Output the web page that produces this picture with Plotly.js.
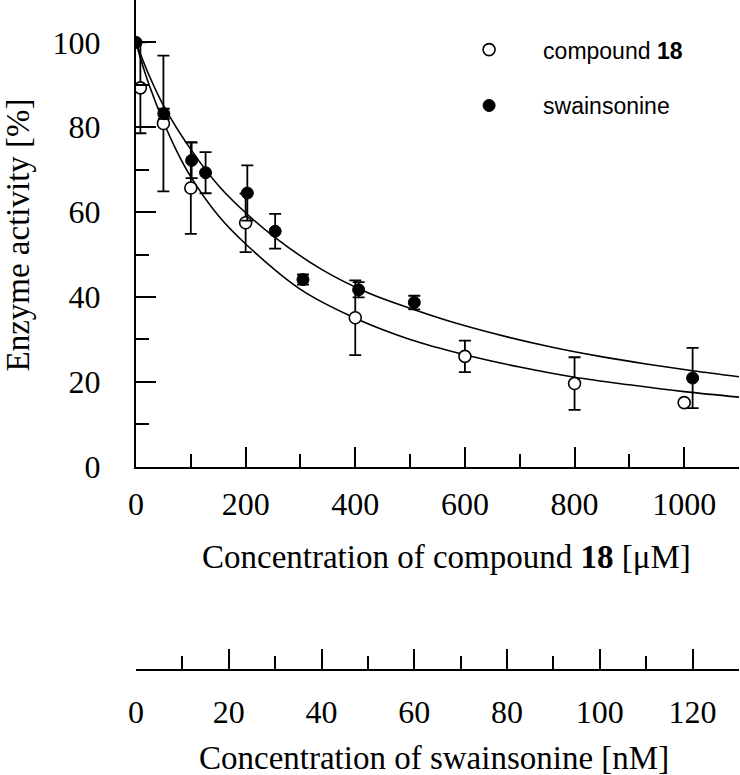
<!DOCTYPE html>
<html>
<head>
<meta charset="utf-8">
<script src="https://cdn.plot.ly/plotly-3.0.1.min.js"></script>
<style>html,body{margin:0;padding:0;background:#fff;}#chart{width:740px;height:775px;}</style>
</head>
<body>
<div id="chart"></div>
<script>
// compound 18 (µM)
var conc18 = [8, 50, 100, 200, 400, 600, 800, 1000];
var act18 = [89.3, 80.9, 65.7, 57.5, 35.1, 26.0, 19.6, 15.1];
var err18 = [10.7, 16.0, 10.8, 6.9, 8.8, 3.7, 6.2, 0.5];

// swainsonine (nM)
var concSw = [0, 6, 12, 15, 24, 30, 36, 48, 60, 120];
var actSw = [100, 83.2, 72.2, 69.3, 64.5, 55.5, 44.1, 41.7, 38.7, 20.9];
var errSw = [0.3, 1.2, 4.2, 4.85, 6.5, 4.1, 1.2, 1.8, 1.6, 7.1];

// fitted curves
var fitX18 = [0, 10, 25, 50, 75, 100, 150, 200, 300, 400, 500, 600, 700, 800, 900, 1000, 1100];
var fitY18 = [100, 95.5, 89.6, 81.3, 74.2, 68.3, 59.2, 52.5, 41.8, 35.0, 30.0, 26.4, 23.5, 21.1, 19.3, 17.7, 16.4];
var fitXSw = [0, 3, 6, 12, 18, 24, 30, 40, 50, 60, 70, 80, 90, 100, 110, 120, 130];
var fitYSw = [100, 91.8, 85.0, 74.5, 66.0, 59.5, 54.0, 46.5, 41.0, 37.0, 33.5, 30.6, 28.1, 26.0, 24.2, 22.6, 21.2];

var legendNames = ['compound <b>18</b>', 'swainsonine'];
var yTitle = 'Enzyme activity [%]';
var x1Title = 'Concentration of compound <b>18</b> [\u03bcM]';
var x2Title = 'Concentration of swainsonine [nM]';

var serif = 'Liberation Serif, Times New Roman, serif';
var sans = 'Liberation Sans, Arial, sans-serif';

var traces = [
  {x: fitX18, y: fitY18, xaxis: 'x', yaxis: 'y', mode: 'lines', line: {color: '#000', width: 1.6, shape: 'spline'}, showlegend: false, hoverinfo: 'skip'},
  {x: fitXSw, y: fitYSw, xaxis: 'x2', yaxis: 'y', mode: 'lines', line: {color: '#000', width: 1.6, shape: 'spline'}, showlegend: false, hoverinfo: 'skip'},
  {x: conc18, y: act18, xaxis: 'x', yaxis: 'y', mode: 'markers', name: legendNames[0], legendgroup: 'a',
   marker: {symbol: 'circle', size: 12, color: '#fff', line: {color: '#000', width: 1.6}},
   error_y: {type: 'data', array: err18, visible: true, color: '#000', thickness: 1.8, width: 6}},
  {x: concSw, y: actSw, xaxis: 'x2', yaxis: 'y', mode: 'markers', name: legendNames[1], legendgroup: 'b',
   marker: {symbol: 'circle', size: 12, color: '#000', line: {color: '#000', width: 1}},
   error_y: {type: 'data', array: errSw, visible: true, color: '#000', thickness: 1.8, width: 6}}
];

var tickFont = {family: serif, size: 32, color: '#000'};
var titleFont = {family: serif, size: 33, color: '#000'};
var layout = {
  width: 740, height: 775,
  margin: {l: 135.7, r: 1.2, t: 0, b: 105},
  paper_bgcolor: '#fff', plot_bgcolor: '#fff',
  showlegend: true,
  legend: {x: 0.496, y: 0.958, xanchor: 'left', yanchor: 'top', font: {family: sans, size: 23, color: '#000'},
           bgcolor: 'rgba(0,0,0,0)', borderwidth: 0, itemwidth: 98, tracegroupgap: 23, traceorder: 'grouped'},
  xaxis: {range: [0, 1100], domain: [0, 1], anchor: 'y', showgrid: false, zeroline: false,
          showline: true, linecolor: '#000', linewidth: 2,
          ticks: 'inside', ticklen: 20, tickwidth: 2, tickcolor: '#000', dtick: 200, tick0: 0,
          minor: {ticks: 'inside', ticklen: 13, tickwidth: 2, tickcolor: '#000', dtick: 100, showgrid: false},
          tickfont: tickFont, ticklabelstandoff: 8},
  xaxis2: {range: [0, 130], overlaying: 'x', anchor: 'free', position: 0, side: 'bottom', showgrid: false, zeroline: false,
           showline: true, linecolor: '#000', linewidth: 2,
           ticks: 'inside', ticklen: 20, tickwidth: 2, tickcolor: '#000', dtick: 20, tick0: 0,
           minor: {ticks: 'inside', ticklen: 13, tickwidth: 2, tickcolor: '#000', dtick: 10, showgrid: false},
           tickfont: tickFont, ticklabelstandoff: 14},
  yaxis: {range: [0, 110], domain: [0.3034, 1], anchor: 'x', showgrid: false, zeroline: false,
          showline: true, linecolor: '#000', linewidth: 2,
          ticks: 'inside', ticklen: 20, tickwidth: 2, tickcolor: '#000', dtick: 20, tick0: 0,
          minor: {ticks: 'inside', ticklen: 13, tickwidth: 2, tickcolor: '#000', dtick: 10, showgrid: false},
          tickfont: tickFont, ticklabelstandoff: 27},
  annotations: [
    {text: x1Title, xref: 'paper', yref: 'paper', x: 0.5157, y: 0.1687, xanchor: 'center', yanchor: 'middle', showarrow: false, font: titleFont},
    {text: x2Title, xref: 'paper', yref: 'paper', x: 0.4946, y: -0.1313, xanchor: 'center', yanchor: 'middle', showarrow: false, font: titleFont},
    {text: yTitle, xref: 'paper', yref: 'paper', x: -0.1951, y: 0.649, xanchor: 'center', yanchor: 'middle', textangle: -90, showarrow: false, font: titleFont}
  ]
};

Plotly.newPlot('chart', traces, layout, {staticPlot: true, displayModeBar: false});
</script>
</body>
</html>
